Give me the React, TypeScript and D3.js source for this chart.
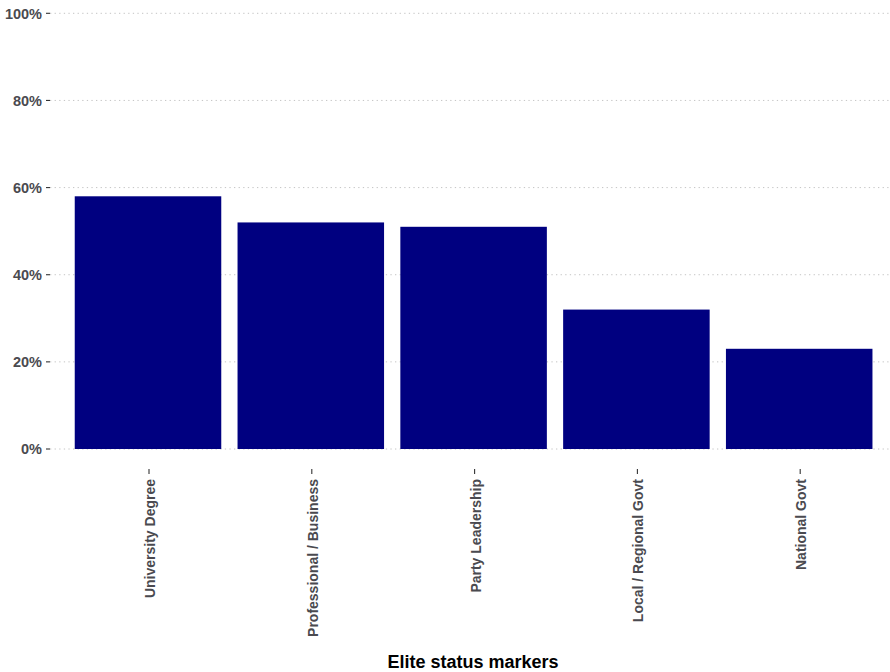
import React from "react";
import * as d3 from "d3";

const categories = [
  "University Degree",
  "Professional / Business",
  "Party Leadership",
  "Local / Regional Govt",
  "National Govt",
];
const values = [0.58, 0.52, 0.51, 0.32, 0.23];
const yTicks = [0, 0.2, 0.4, 0.6, 0.8, 1.0];
const xTitle = "Elite status markers";

const W = 890;
const H = 672;

export default function App() {
  const x = d3
    .scaleBand<string>()
    .domain(categories)
    .range([66.6, 880.6])
    .paddingInner(0.1)
    .paddingOuter(0.05);
  const y = d3.scaleLinear().domain([0, 1]).range([449, 13.3]);
  const fmt = d3.format(".0%");
  const font = "'Liberation Sans', Arial, sans-serif";
  const panelLeft = 50;
  const panelRight = 890;

  return (
    <svg
      width={W}
      height={H}
      style={{ position: "absolute", left: 0, top: 0, background: "#fff" }}
      fontFamily={font}
    >
      <rect x={0} y={0} width={W} height={H} fill="#fff" />
      {yTicks.map((t) => (
        <g key={t}>
          <line
            x1={panelLeft}
            x2={panelRight}
            y1={y(t)}
            y2={y(t)}
            stroke="#c4c4c4"
            strokeWidth={1}
            strokeDasharray="1.3,3.3"
          />
          <line x1={46} x2={50} y1={y(t)} y2={y(t)} stroke="#333" strokeWidth={1.1} />
          <text
            x={42}
            y={y(t)}
            dy="0.36em"
            textAnchor="end"
            fontSize={14.5}
            fontWeight="bold"
            fill="#4a4a4f"
          >
            {fmt(t)}
          </text>
        </g>
      ))}
      {categories.map((c, i) => (
        <rect
          key={c}
          x={x(c)}
          y={y(values[i])}
          width={x.bandwidth()}
          height={y(0) - y(values[i])}
          fill="#000080"
        />
      ))}
      {categories.map((c) => {
        const cx = (x(c) as number) + x.bandwidth() / 2;
        return (
          <g key={c}>
            <line x1={cx + 1} x2={cx + 1} y1={469} y2={474} stroke="#333" strokeWidth={1.1} />
            <text
              transform={`translate(${cx + 7},${479}) rotate(-90)`}
              textAnchor="end"
              fontSize={14}
              fill="#4a4a4f"
              fontWeight="bold"
            >
              {c}
            </text>
          </g>
        );
      })}
      <text
        x={473}
        y={668}
        textAnchor="middle"
        fontSize={18}
        fontWeight="bold"
        fill="#000"
      >
        {xTitle}
      </text>
    </svg>
  );
}
